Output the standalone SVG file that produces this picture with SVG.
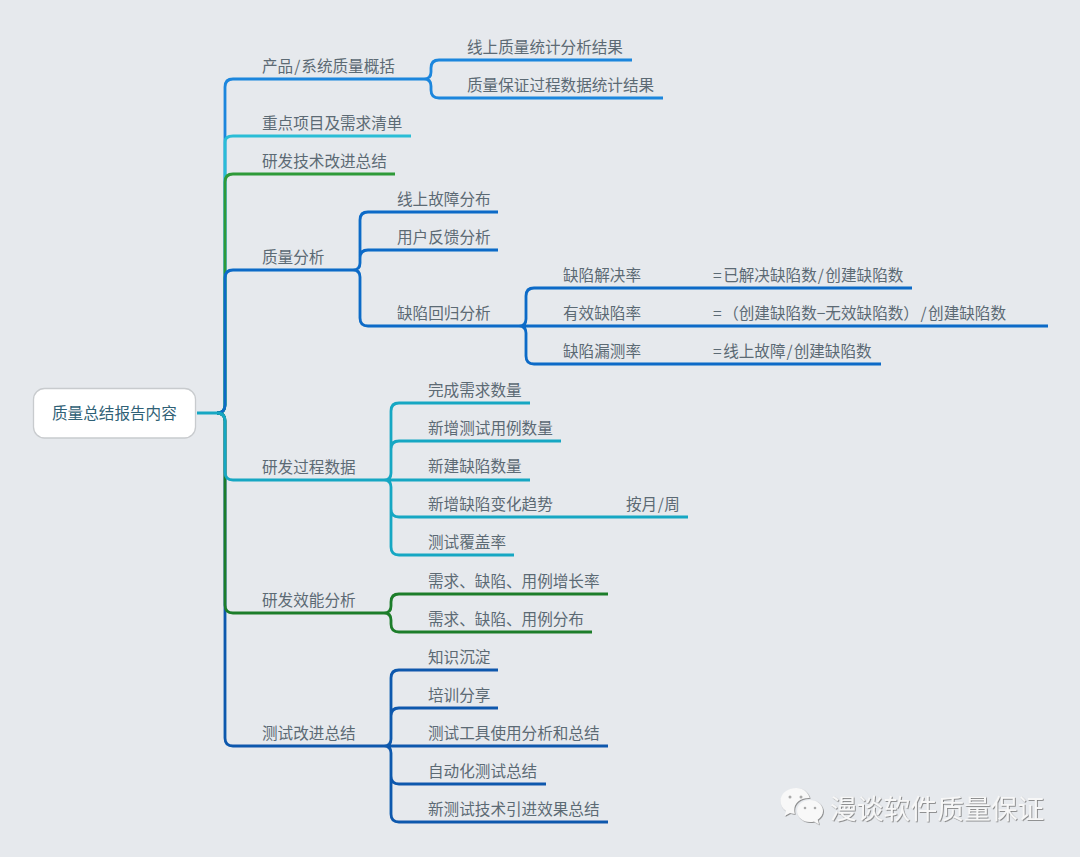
<svg xmlns="http://www.w3.org/2000/svg" width="1080" height="857" viewBox="0 0 1080 857">
<defs>
<filter id="soft" x="-5%" y="-5%" width="110%" height="110%"><feGaussianBlur stdDeviation="0.35"/></filter>
<filter id="mark" x="-5%" y="-20%" width="110%" height="140%"><feDropShadow dx="0.8" dy="0.8" stdDeviation="0.5" flood-color="#6e6e6e" flood-opacity="0.9"/></filter>
</defs>
<style>
text{font-family:"Noto Sans CJK SC","Noto Sans",sans-serif;font-size:15.6px;fill:#5c6a74}
.root{fill:#2f6176}
.c{fill:none;stroke-width:2.8;stroke-linecap:butt;stroke-linejoin:round}
.wm{font-size:26.8px;fill:#f7f7f7;filter:url(#mark)}
.b1{stroke:#1b86dd}.b2{stroke:#2bbdd6}.b3{stroke:#2f9a37}.b4{stroke:#0a6bc7}.b5{stroke:#17a7c3}.b6{stroke:#1f7d2a}.b7{stroke:#0f58ad}
</style>
<rect width="1080" height="857" fill="#e6e9ed"/>
<g id="connectors" filter="url(#soft)">
<path class="c b1" d="M217 413Q225 413 225 405V87Q225 79 233 79H424Q431 79 431 72V68Q431 60 439 60H632M424 79Q431 79 431 86V90Q431 98 439 98H663"/>
<path class="c b2" d="M217 413Q225 413 225 405V142Q225 136 233 136H411"/>
<path class="c b3" d="M217 413Q225 413 225 405V182Q225 174 233 174H395"/>
<path class="c b7" d="M217 413Q225 413 225 421V738Q225 746 233 746H384Q391 746 391 739V678Q391 670 399 670H498M391 739V716Q391 708 399 708H498M384 746H608M384 746Q391 746 391 753V776Q391 784 399 784H546M391 753V814Q391 822 399 822H608"/>
<path class="c b6" d="M217 413Q225 413 225 421V605Q225 613 233 613H384Q391 613 391 606V602Q391 594 399 594H608M384 613Q391 613 391 620V624Q391 632 399 632H592"/>
<path class="c b4" d="M217 413Q225 413 225 405V278Q225 270 233 270H353Q360 270 360 263V220Q360 212 368 212H498M360 263V258Q360 250 368 250H498M353 270Q360 270 360 277V318Q360 326 368 326H519Q526 326 526 319V296Q526 288 534 288H912M519 326H1048M519 326Q526 326 526 333V356Q526 364 534 364H881"/>
<path class="c b5" d="M197 413H217Q225 413 225 421V472Q225 480 233 480H384Q391 480 391 473V411Q391 403 399 403H530M391 473V449Q391 441 399 441H561M384 480H530M384 480Q391 480 391 487V509Q391 517 399 517H688M391 487V547Q391 555 399 555H514"/>
</g>
<g id="root"><rect x="33.500" y="388.500" width="162" height="49.500" rx="11" fill="#fff" stroke="#c8cbce" stroke-width="1.300"/><text class="root" x="52" y="419">质量总结报告内容</text></g>
<g id="n1"><text x="262" y="72">产品<tspan dx="1">/</tspan><tspan dx="1">系统质量概括</tspan></text></g>
<g id="n1a"><text x="467" y="53">线上质量统计分析结果</text></g>
<g id="n1b"><text x="467" y="91">质量保证过程数据统计结果</text></g>
<g id="n2"><text x="262" y="129">重点项目及需求清单</text></g>
<g id="n3"><text x="262" y="167">研发技术改进总结</text></g>
<g id="n4"><text x="262" y="263">质量分析</text></g>
<g id="n4a"><text x="397" y="205">线上故障分布</text></g>
<g id="n4b"><text x="397" y="243">用户反馈分析</text></g>
<g id="n4c"><text x="397" y="319">缺陷回归分析</text></g>
<g id="n4c1"><text x="563" y="281">缺陷解决率</text><text x="713" y="281">=<tspan dx="1.500">已解决缺陷数</tspan><tspan dx="1">/</tspan><tspan dx="1.500">创建缺陷数</tspan></text></g>
<g id="n4c2"><text x="563" y="319">有效缺陷率</text><text x="713" y="319">=<tspan dx="1.500">（创建缺陷数−无效缺陷数）</tspan><tspan dx="1.500">/</tspan><tspan dx="1.500">创建缺陷数</tspan></text></g>
<g id="n4c3"><text x="563" y="357">缺陷漏测率</text><text x="713" y="357">=<tspan dx="1.500">线上故障</tspan><tspan dx="1">/</tspan><tspan dx="1">创建缺陷数</tspan></text></g>
<g id="n5"><text x="262" y="473">研发过程数据</text></g>
<g id="n5a"><text x="428" y="396">完成需求数量</text></g>
<g id="n5b"><text x="428" y="434">新增测试用例数量</text></g>
<g id="n5c"><text x="428" y="472">新建缺陷数量</text></g>
<g id="n5d"><text x="428" y="510">新增缺陷变化趋势</text><text x="626" y="510">按月<tspan dx="0.500">/</tspan><tspan dx="0.500">周</tspan></text></g>
<g id="n5e"><text x="428" y="548">测试覆盖率</text></g>
<g id="n6"><text x="262" y="606">研发效能分析</text></g>
<g id="n6a"><text x="428" y="587">需求、缺陷、用例增长率</text></g>
<g id="n6b"><text x="428" y="625">需求、缺陷、用例分布</text></g>
<g id="n7"><text x="262" y="739">测试改进总结</text></g>
<g id="n7a"><text x="428" y="663">知识沉淀</text></g>
<g id="n7b"><text x="428" y="701">培训分享</text></g>
<g id="n7c"><text x="428" y="739">测试工具使用分析和总结</text></g>
<g id="n7d"><text x="428" y="777">自动化测试总结</text></g>
<g id="n7e"><text x="428" y="815">新测试技术引进效果总结</text></g>
<g id="watermark">
<g filter="url(#mark)" fill="#f8f8f8">
<path d="M796 788c-8.500 0-15.500 5.500-15.500 13 0 4 2 7.500 5.500 10l-1.500 5 5.500-3c1.500.5 3 .8 4.800 .9-.4-1.200-.6-2.500-.6-3.800 0-6.800 6-12 14-12h1.500c-1.300-5.500-6.500-10.100-13.200-10.100z"/>
<path d="M810 800c-7 0-13 4.800-13 11s6 11 13 11c1.500 0 2.800-.2 4-.6l5 3-1.300-4.600c3.100-2 5.300-5.200 5.300-8.800 0-6.200-6-11-13-11z"/>
</g>
<circle cx="790" cy="797" r="1.500" fill="#aaa"/><circle cx="801" cy="797" r="1.500" fill="#aaa"/><circle cx="805" cy="808" r="1.300" fill="#aaa"/><circle cx="815" cy="808" r="1.300" fill="#aaa"/>
<text class="wm" x="830" y="819">漫谈软件质量保证</text>
</g>
</svg>
